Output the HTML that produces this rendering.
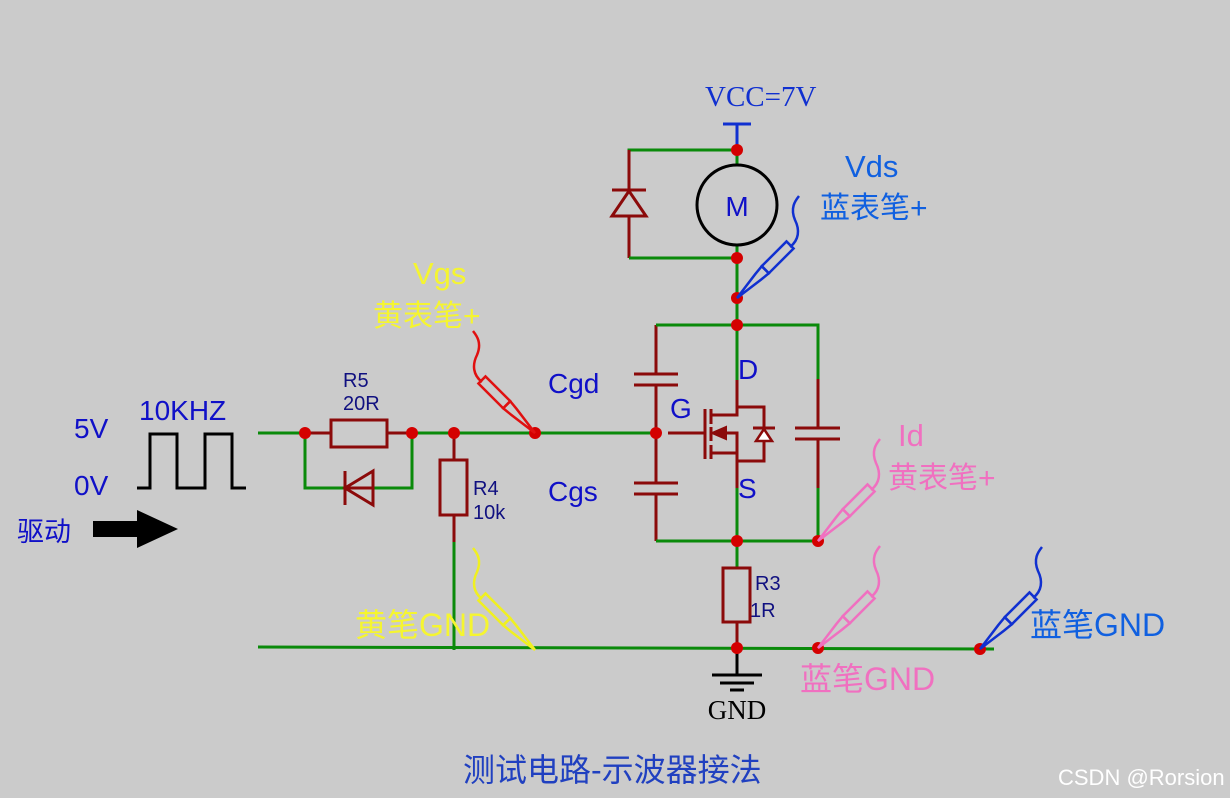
<!DOCTYPE html>
<html><head><meta charset="utf-8"><style>
html,body{margin:0;padding:0;background:#cbcbcb;}
svg{display:block;}
text{font-family:"Liberation Sans","Noto Sans CJK SC",sans-serif;}
.g{stroke:#0a8a0a;stroke-width:3;fill:none;}
.r{stroke:#8b0a0a;stroke-width:3;fill:none;}
.d{fill:#d40000;}
</style></head><body>
<svg width="1230" height="798" viewBox="0 0 1230 798" xmlns="http://www.w3.org/2000/svg">
<defs>
<g id="probe" fill="none" stroke="currentColor" stroke-width="2.5">
<g transform="rotate(-45)">
<path d="M0,0 L30,-4 L40,-5 L40,5 L30,4 Z"/>
<rect x="40" y="-5" width="35" height="10"/>
</g>
<path d="M53,-51 C62,-58 63,-68 58,-78 C53,-90 58,-97 62,-102"/>
</g>
</defs>
<!-- left input -->
<polyline points="137,488 150,488 150,434 177,434 177,488 205,488 205,434 232,434 232,488 246,488" fill="none" stroke="#000" stroke-width="3"/>
<path d="M93,521 L137,521 L137,510 L178,529 L137,548 L137,537 L93,537 Z" fill="#000"/>
<text x="74" y="438" font-size="28" fill="#1010c8">5V</text>
<text x="74" y="495" font-size="28" fill="#1010c8">0V</text>
<text x="139" y="420" font-size="28" fill="#1010c8">10KHZ</text>
<text x="17" y="541" font-size="27" fill="#1010c8">驱动</text>

<!-- gate line -->
<line x1="258" y1="433" x2="331" y2="433" class="g"/>
<line x1="387" y1="433" x2="656" y2="433" class="g"/>
<line x1="305" y1="433" x2="331" y2="433" class="r"/>
<line x1="387" y1="433" x2="412" y2="433" class="r"/>
<rect x="331" y="420" width="56" height="27" class="r"/>
<polyline points="305,433 305,488 345,488" class="g"/>
<polyline points="373,488 412,488 412,433" class="g"/>
<line x1="345" y1="488" x2="373" y2="488" class="r"/>
<line x1="345" y1="471" x2="345" y2="505" class="r"/>
<path d="M345,488 L373,471 L373,505 Z" class="r"/>
<text x="343" y="387" font-size="20" fill="#101080">R5</text>
<text x="343" y="410" font-size="20" fill="#101080">20R</text>
<!-- R4 -->
<line x1="454" y1="433" x2="454" y2="460" class="r"/>
<rect x="440" y="460" width="27" height="55" class="r"/>
<line x1="454" y1="515" x2="454" y2="542" class="r"/>
<line x1="454" y1="542" x2="454" y2="650" class="g"/>
<text x="473" y="495" font-size="20" fill="#101080">R4</text>
<text x="473" y="519" font-size="20" fill="#101080">10k</text>

<!-- GND line -->
<line x1="258" y1="647" x2="994" y2="649" class="g"/>

<!-- gate caps -->
<line x1="656" y1="325" x2="656" y2="374" class="r"/>
<line x1="656" y1="385" x2="656" y2="483" class="r"/>
<line x1="656" y1="494" x2="656" y2="541" class="r"/>
<line x1="634" y1="374" x2="678" y2="374" class="r"/>
<line x1="634" y1="385" x2="678" y2="385" class="r"/>
<line x1="634" y1="483" x2="678" y2="483" class="r"/>
<line x1="634" y1="494" x2="678" y2="494" class="r"/>
<polyline points="656,325 818,325 818,379" class="g"/>
<polyline points="656,541 818,541 818,488" class="g"/>
<line x1="818" y1="379" x2="818" y2="428" class="r"/>
<line x1="818" y1="439" x2="818" y2="488" class="r"/>
<line x1="795" y1="428" x2="840" y2="428" class="r"/>
<line x1="795" y1="439" x2="840" y2="439" class="r"/>
<text x="548" y="393" font-size="28" fill="#1010c8">Cgd</text>
<text x="548" y="501" font-size="28" fill="#1010c8">Cgs</text>

<!-- MOSFET -->
<line x1="737" y1="150" x2="737" y2="380" class="g"/>
<line x1="737" y1="380" x2="737" y2="415" class="r"/>
<line x1="737" y1="433" x2="737" y2="488" class="r"/>
<line x1="737" y1="488" x2="737" y2="568" class="g"/>
<line x1="668" y1="433" x2="705" y2="433" class="r"/>
<line x1="705" y1="409" x2="705" y2="459" class="r"/>
<line x1="711" y1="409" x2="711" y2="424" class="r"/>
<line x1="711" y1="427" x2="711" y2="441" class="r"/>
<line x1="711" y1="445" x2="711" y2="459" class="r"/>
<polyline points="711,415 737,415 737,407 764,407 764,461 737,461" class="r"/>
<polyline points="711,453 737,453 737,433 720,433" class="r"/>
<path d="M712,433 L726,427 L726,439 Z" fill="#8b0a0a" stroke="#8b0a0a" stroke-width="2"/>
<line x1="753" y1="428" x2="775" y2="428" class="r"/>
<path d="M764,429 L756,441 L772,441 Z" fill="#fff" stroke="#8b0a0a" stroke-width="2.5"/>
<text x="738" y="379" font-size="28" fill="#1010c8">D</text>
<text x="670" y="418" font-size="28" fill="#1010c8">G</text>
<text x="738" y="498" font-size="28" fill="#1010c8">S</text>

<!-- motor -->
<polyline points="737,150 629,150 629,190" class="g"/>
<line x1="629" y1="150" x2="629" y2="258" class="r"/>
<polyline points="629,258 737,258" class="g"/>
<line x1="612" y1="190" x2="646" y2="190" class="r"/>
<path d="M629,191 L612,216 L646,216 Z" fill="#cbcbcb" stroke="#8b0a0a" stroke-width="3"/>
<circle cx="737" cy="205" r="40" fill="#cbcbcb" stroke="#000" stroke-width="3"/>
<text x="737" y="216" font-size="28" fill="#1010c8" text-anchor="middle">M</text>
<line x1="737" y1="124" x2="737" y2="150" stroke="#1030d0" stroke-width="3"/>
<line x1="723" y1="124" x2="751" y2="124" stroke="#1030d0" stroke-width="3"/>
<text x="705" y="106" font-size="29" fill="#1030d0" style="font-family:'Liberation Serif',serif">VCC=7V</text>

<!-- R3 + GND -->
<rect x="723" y="568" width="27" height="54" class="r"/>
<line x1="737" y1="622" x2="737" y2="648" class="r"/>
<line x1="737" y1="648" x2="737" y2="675" stroke="#000" stroke-width="3"/>
<line x1="712" y1="675" x2="762" y2="675" stroke="#000" stroke-width="3"/>
<line x1="720" y1="683" x2="754" y2="683" stroke="#000" stroke-width="3"/>
<line x1="730" y1="690" x2="744" y2="690" stroke="#000" stroke-width="3"/>
<text x="737" y="719" font-size="27" fill="#000" text-anchor="middle" style="font-family:'Liberation Serif',serif">GND</text>
<text x="755" y="590" font-size="20" fill="#101080">R3</text>
<text x="750" y="617" font-size="20" fill="#101080">1R</text>

<!-- dots -->
<g class="d">
<circle cx="305" cy="433" r="6"/><circle cx="412" cy="433" r="6"/><circle cx="454" cy="433" r="6"/><circle cx="535" cy="433" r="6"/><circle cx="656" cy="433" r="6"/>
<circle cx="737" cy="150" r="6"/><circle cx="737" cy="258" r="6"/><circle cx="737" cy="298" r="6"/><circle cx="737" cy="325" r="6"/><circle cx="737" cy="541" r="6"/><circle cx="818" cy="541" r="6"/><circle cx="737" cy="648" r="6"/><circle cx="818" cy="648" r="6"/><circle cx="980" cy="649" r="6"/>
</g>

<!-- probes -->
<use href="#probe" transform="translate(737,298)" style="color:#1030d0"/>
<use href="#probe" transform="translate(535,433) scale(-1,1)" style="color:#e01010"/>
<use href="#probe" transform="translate(535,650) scale(-1,1)" style="color:#f0f020"/>
<use href="#probe" transform="translate(818,541)" style="color:#f070c0"/>
<use href="#probe" transform="translate(818,648)" style="color:#f070c0"/>
<use href="#probe" transform="translate(980,649)" style="color:#1030d0"/>

<!-- labels -->
<text x="845" y="177" font-size="31" fill="#1060e0">Vds</text>
<text x="820" y="218" font-size="30" fill="#1060e0">蓝表笔+</text>
<text x="413" y="284" font-size="31" fill="#f5f530">Vgs</text>
<text x="373" y="326" font-size="30" fill="#f5f530">黄表笔+</text>
<text x="898" y="446" font-size="31" fill="#f070c0">Id</text>
<text x="888" y="488" font-size="30" fill="#f070c0">黄表笔+</text>
<text x="355" y="636" font-size="32" fill="#f5f530">黄笔GND</text>
<text x="800" y="690" font-size="32" fill="#f070c0">蓝笔GND</text>
<text x="1030" y="636" font-size="32" fill="#1060e0">蓝笔GND</text>
<text x="463" y="781" font-size="32" fill="#2040c0">测试电路-示波器接法</text>
<text x="1058" y="785" font-size="22" fill="#ffffff">CSDN @Rorsion</text>
</svg>
</body></html>
